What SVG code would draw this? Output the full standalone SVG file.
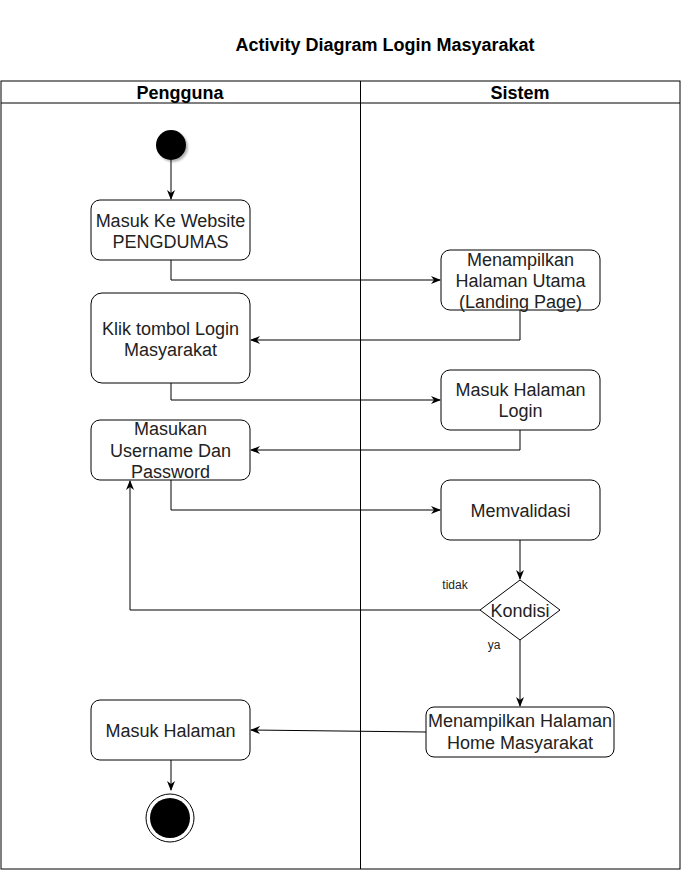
<svg xmlns="http://www.w3.org/2000/svg" width="681" height="871" viewBox="0 0 681 871">
<defs>
<marker id="arr" viewBox="0 0 10 10" refX="9" refY="5" markerWidth="10" markerHeight="10" markerUnits="userSpaceOnUse" orient="auto">
<path d="M0,1 L10,5 L0,9 L3,5 Z" fill="#000"/>
</marker>
<filter id="sh" x="-50%" y="-50%" width="200%" height="200%">
<feDropShadow dx="2" dy="2" stdDeviation="1.2" flood-color="#000" flood-opacity="0.3"/>
</filter>
</defs>
<style>
.box{fill:#fff;stroke:#000;stroke-width:1}
.t{font-family:"Liberation Sans",Arial,sans-serif;font-size:18px;fill:#222;text-anchor:middle}
.h{font-family:"Liberation Sans",Arial,sans-serif;font-size:18px;font-weight:bold;fill:#000;text-anchor:middle}
.s{font-family:"Liberation Sans",Arial,sans-serif;font-size:12px;fill:#222;text-anchor:middle}
.c{fill:none;stroke:#000;stroke-width:1;marker-end:url(#arr)}
</style>
<rect width="681" height="871" fill="#fff"/>
<text class="h" x="385" y="51">Activity Diagram Login Masyarakat</text>
<g id="pool">
<rect x="1" y="81" width="679" height="788" fill="none" stroke="#000"/>
<line x1="1" y1="103" x2="680" y2="103" stroke="#000"/>
<line x1="360.5" y1="81" x2="360.5" y2="869" stroke="#000"/>
<text class="h" x="180" y="98.5">Pengguna</text>
<text class="h" x="520" y="98.5">Sistem</text>
</g>
<g id="connectors">
<path class="c" d="M171,160 V199"/>
<path class="c" d="M171,260 V280 H440"/>
<path class="c" d="M520,310 V340 H251"/>
<path class="c" d="M171,383 V400 H440"/>
<path class="c" d="M520,430 V450 H251"/>
<path class="c" d="M171,480 V510 H440"/>
<path class="c" d="M520,540 V579"/>
<path class="c" d="M480,610 H130 V481"/>
<path class="c" d="M520,640 V706"/>
<path class="c" d="M426,732 L251,730"/>
<path class="c" d="M171,760 V790"/>
<text class="s" x="455" y="589">tidak</text>
<text class="s" x="494" y="649">ya</text>
</g>
<g id="start"><circle cx="171" cy="145" r="15" fill="#000" filter="url(#sh)"/></g>
<g id="n1"><rect class="box" x="91" y="200" width="159" height="60" rx="9"/>
<text class="t" x="170.5" y="226.5">Masuk Ke Website</text><text class="t" x="170.5" y="247.5">PENGDUMAS</text></g>
<g id="n2"><rect class="box" x="441" y="250" width="159" height="60" rx="9"/>
<text class="t" x="520.5" y="265.5">Menampilkan</text><text class="t" x="520.5" y="286.5">Halaman Utama</text><text class="t" x="520.5" y="307.5">(Landing Page)</text></g>
<g id="n3"><rect class="box" x="91" y="293" width="159" height="90" rx="11"/>
<text class="t" x="170.5" y="334.5">Klik tombol Login</text><text class="t" x="170.5" y="355.5">Masyarakat</text></g>
<g id="n4"><rect class="box" x="441" y="370" width="159" height="60" rx="9"/>
<text class="t" x="520.5" y="395.5">Masuk Halaman</text><text class="t" x="520.5" y="416.5">Login</text></g>
<g id="n5"><rect class="box" x="91" y="420" width="159" height="60" rx="9"/>
<text class="t" x="170.5" y="434.5">Masukan</text><text class="t" x="170.5" y="456.5">Username Dan</text><text class="t" x="170.5" y="477.5">Password</text></g>
<g id="n6"><rect class="box" x="441" y="480" width="159" height="60" rx="9"/>
<text class="t" x="520.5" y="516.5">Memvalidasi</text></g>
<g id="d1"><polygon class="box" points="520,580 560,610 520,640 480,610"/>
<text class="t" x="520" y="616.5">Kondisi</text></g>
<g id="n7"><rect class="box" x="426" y="707" width="188" height="50" rx="8"/>
<text class="t" x="520" y="726.5">Menampilkan Halaman</text><text class="t" x="520" y="748.5">Home Masyarakat</text></g>
<g id="n8"><rect class="box" x="91" y="700" width="159" height="60" rx="9"/>
<text class="t" x="170.5" y="736.5">Masuk Halaman</text></g>
<g id="end"><circle cx="170" cy="818" r="24" fill="#fff" stroke="#000"/><circle cx="170" cy="818" r="20" fill="#000"/></g>
</svg>
